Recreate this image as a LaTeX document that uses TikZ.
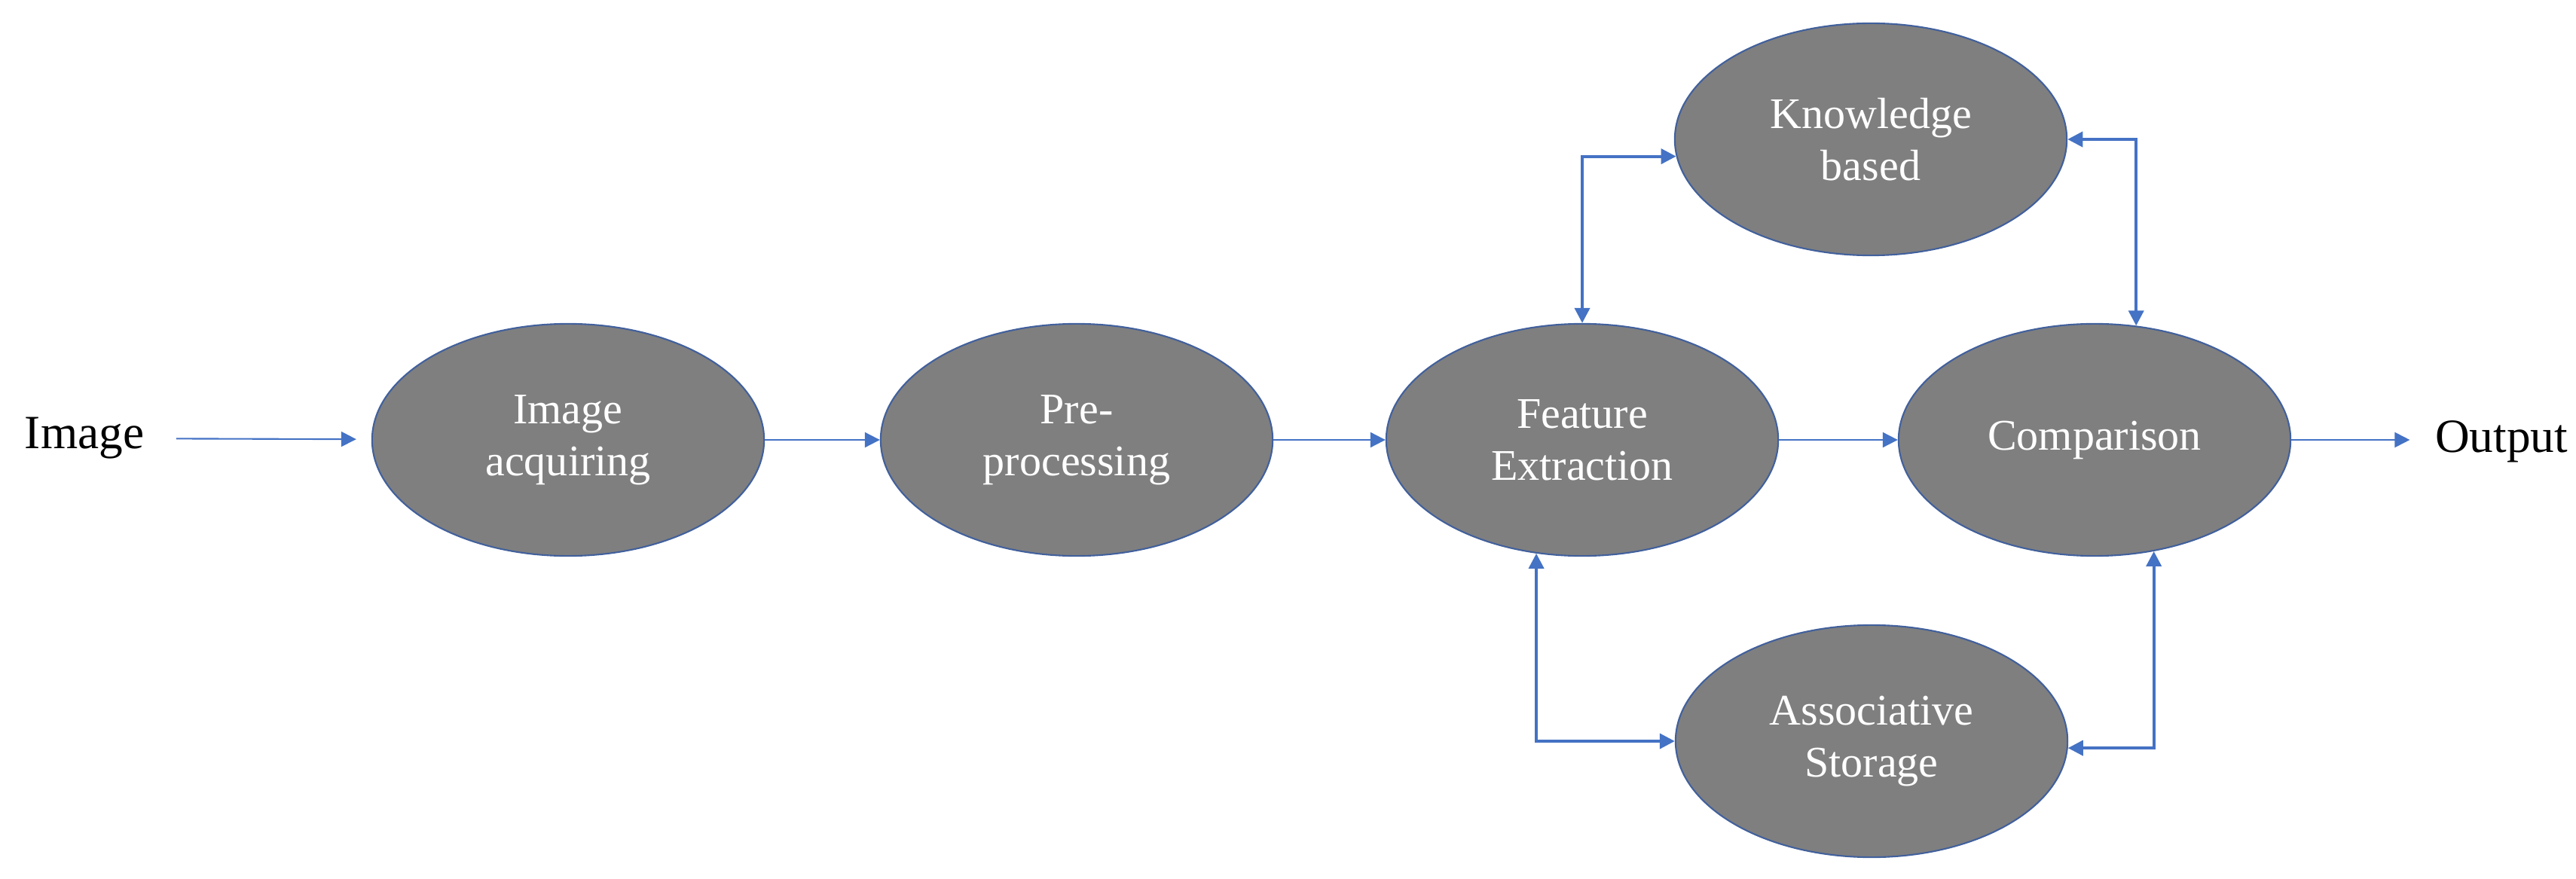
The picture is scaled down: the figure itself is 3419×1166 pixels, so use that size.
\documentclass[tikz,border=0pt]{standalone}
\usepackage{fontspec}
\setmainfont{Liberation Serif}
\usetikzlibrary{shapes.geometric,arrows.meta}
\definecolor{stagefill}{HTML}{7F7F7F}
\definecolor{stageline}{HTML}{41609C}
\definecolor{flowblue}{HTML}{4472C4}
\begin{document}
\begin{tikzpicture}[x=0.01cm, y=0.01cm,
    stage/.style={ellipse, draw=stageline, line width=0.6pt, fill=stagefill, minimum width=5.2cm, minimum height=3.08cm, inner sep=0pt, align=center, text=white, font=\fontsize{16.5}{19.6}\selectfont},
    label/.style={inner sep=0pt, font=\fontsize{18}{21}\selectfont},
    flow/.style={draw=flowblue, line width=0.6pt, -{Triangle[length=0.2cm, width=0.2cm]}},
    link/.style={draw=flowblue, line width=1.1pt, {Triangle[length=0.2cm, width=0.2cm]}-{Triangle[length=0.2cm, width=0.2cm]}}]
      \useasboundingbox (0, 0) rectangle (3419, 1166);
      % Nodes
      \node[label] at (112, 584) (img) {Image};
      \node[stage] at (754, 582) (acq) {Image\\acquiring};
      \node[stage] at (1429, 582) (pre) {Pre-\\processing};
      \node[stage] at (2100, 582) (feat) {Feature\\Extraction};
      \node[stage] at (2780, 582) (comp) {Comparison};
      \node[stage] at (2483, 981) (know) {Knowledge\\based};
      \node[stage] at (2484, 182) (assoc) {Associative\\Storage};
      \node[label] at (3320, 580) (out) {Output};

      % Main flow
      \draw[flow, shorten <=0.42cm, shorten >=0.2cm] (img) -- (acq);
      \draw[flow] (acq) -- (pre);
      \draw[flow] (pre) -- (feat);
      \draw[flow] (feat) -- (comp);
      \draw[flow, shorten >=0.33cm] (comp.east) -- (out.west |- comp.east);

      % Two-way links
      \draw[link] (feat.north) |- (know.185);
      \draw[link] (know.east) -| (comp.70);
      \draw[link] (feat.248) |- (assoc.west);
      \draw[link] (assoc.358) -| (comp.298);
    \end{tikzpicture}
\end{document}
